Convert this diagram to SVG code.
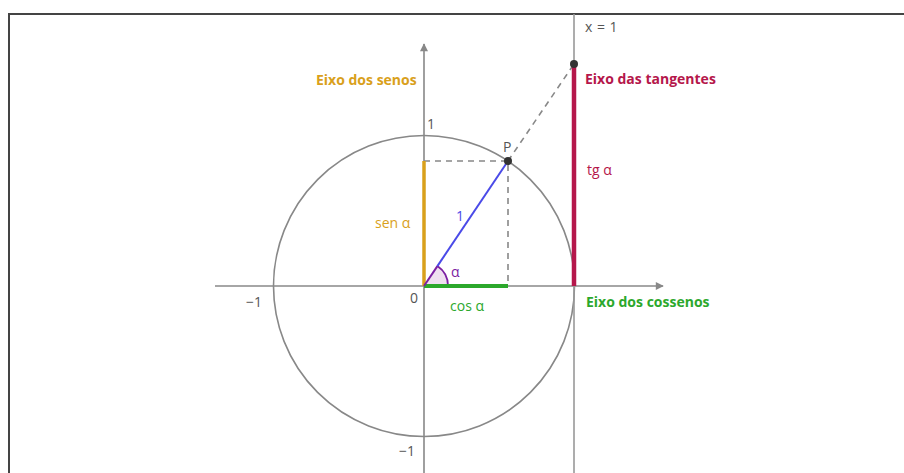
<svg xmlns="http://www.w3.org/2000/svg" width="904" height="473" viewBox="0 0 904 473">
<style>
text{font-family:"Open Sans","Liberation Sans",sans-serif;font-size:14px}
.b{font-weight:bold;font-size:14px}
.g{fill:#555}
.dash{stroke:#888;stroke-width:1.6;stroke-dasharray:6,5;fill:none}
.ax{stroke:#888;stroke-width:1.6;fill:none}
</style>
<defs>
<marker id="ar" viewBox="0 0 10 10" refX="9" refY="5" markerWidth="14" markerHeight="8" markerUnits="userSpaceOnUse" orient="auto">
<path d="M0,0 L10,5 L0,10 z" fill="#888"/>
</marker>
</defs>
<rect width="904" height="473" fill="#fff"/>
<g id="frame" stroke="#444" stroke-width="2" fill="none">
<path d="M9,473 V14 H904"/>
</g>
<g id="connectors">
<circle cx="424" cy="286" r="150.5" class="ax"/>
<line x1="215" y1="286" x2="663" y2="286" class="ax" marker-end="url(#ar)"/>
<line x1="424" y1="473" x2="424" y2="44" class="ax" marker-end="url(#ar)"/>
<line x1="574" y1="14" x2="574" y2="473" stroke="#999" stroke-width="1.6"/>
<path d="M424,161 H508 V286" class="dash"/>
<line x1="508" y1="161" x2="574" y2="64" class="dash"/>
<path d="M424,286 L448,286 A24,24 0 0 0 437.4,266.1 Z" fill="#efe0f0" stroke="none"/>
<path d="M448,286 A24,24 0 0 0 437.4,266.1" fill="none" stroke="#7b1fa2" stroke-width="1.8"/>
<line x1="424" y1="286" x2="424" y2="161" stroke="#d9a01b" stroke-width="3.5"/>
<line x1="424" y1="286" x2="508" y2="286" stroke="#2ca82c" stroke-width="4"/>
<line x1="574" y1="64" x2="574" y2="286" stroke="#b5174b" stroke-width="4.5"/>
<line x1="424" y1="286" x2="437.4" y2="266.1" stroke="#7b1fa2" stroke-width="2"/>
<line x1="437.4" y1="266.1" x2="508" y2="161" stroke="#4a4ae8" stroke-width="2"/>
</g>
<g id="P"><circle cx="508" cy="161" r="4" fill="#333"/><text x="503" y="152" class="g">P</text></g>
<g id="T"><circle cx="574" cy="64" r="4" fill="#333"/></g>
<g id="labels">
<text x="316" y="85" class="b" fill="#d9a01b">Eixo dos senos</text>
<text x="585" y="32" class="g" letter-spacing="0.5">x = 1</text>
<text x="585" y="84" class="b" fill="#b5174b">Eixo das tangentes</text>
<text x="427" y="129" class="g">1</text>
<text x="587" y="175" fill="#b5174b">tg α</text>
<text x="375" y="228" fill="#d9a01b">sen α</text>
<text x="456" y="221" fill="#4a4ae8">1</text>
<text x="451" y="277" fill="#7b1fa2">α</text>
<text x="410" y="303" class="g">0</text>
<text x="246" y="307" class="g">−1</text>
<text x="450" y="311" fill="#2ca82c">cos α</text>
<text x="586" y="307" class="b" fill="#2ca82c">Eixo dos cossenos</text>
<text x="399" y="456" class="g">−1</text>
</g>
</svg>
